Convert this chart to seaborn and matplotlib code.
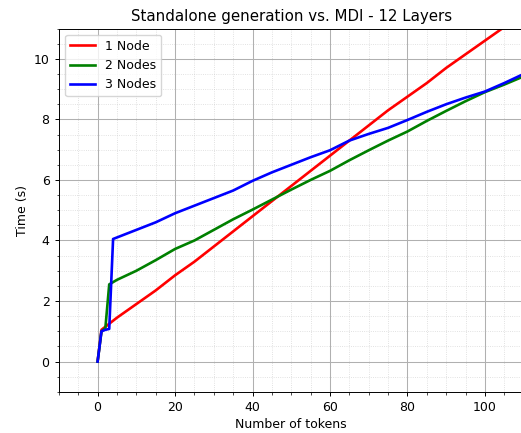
import matplotlib
matplotlib.use("Agg")
import matplotlib.pyplot as plt
from matplotlib.ticker import MultipleLocator
import seaborn as sns
import pandas as pd

tokens_1 = [0, 1, 5, 10, 15, 20, 25, 30, 35, 40, 45, 50, 55, 60, 65, 70, 75, 80, 85, 90, 95, 100, 105, 110]
time_1 = [0, 1.05, 1.45, 1.9, 2.35, 2.85, 3.3, 3.8, 4.3, 4.8, 5.3, 5.8, 6.3, 6.8, 7.3, 7.8, 8.3, 8.75, 9.2, 9.7, 10.15, 10.6, 11.05, 11.5]

tokens_2 = [0, 1, 2, 3, 5, 10, 15, 20, 25, 30, 35, 40, 45, 50, 55, 60, 65, 70, 75, 80, 85, 90, 95, 100, 105, 110]
time_2 = [0, 1.0, 1.1, 2.55, 2.7, 3.0, 3.35, 3.72, 4.0, 4.35, 4.7, 5.02, 5.35, 5.68, 6.0, 6.3, 6.65, 6.98, 7.3, 7.6, 7.95, 8.28, 8.6, 8.9, 9.15, 9.42]

tokens_3 = [0, 1, 2, 3, 4, 5, 10, 15, 20, 25, 30, 35, 40, 45, 50, 55, 60, 65, 70, 75, 80, 85, 90, 95, 100, 105, 110]
time_3 = [0, 1.0, 1.05, 1.08, 4.05, 4.1, 4.35, 4.6, 4.9, 5.15, 5.4, 5.65, 5.97, 6.25, 6.5, 6.75, 6.98, 7.3, 7.52, 7.72, 7.98, 8.25, 8.5, 8.72, 8.92, 9.2, 9.5]

labels = ["1 Node", "2 Nodes", "3 Nodes"]
colors = ["red", "green", "blue"]

frames = []
for lab, xs, ys in zip(labels, [tokens_1, tokens_2, tokens_3], [time_1, time_2, time_3]):
    frames.append(pd.DataFrame({"tokens": xs, "time": ys, "series": lab}))
df = pd.concat(frames, ignore_index=True)

fig = plt.figure(figsize=(5.21, 4.33), dpi=100)
ax = fig.add_axes([0.113, 0.095, 0.892, 0.839])

sns.lineplot(data=df, x="tokens", y="time", hue="series", hue_order=labels,
             palette=dict(zip(labels, colors)), linewidth=1.9, ax=ax, sort=False)

ax.set_xlim(-10, 110)
ax.set_ylim(-1, 11)
ax.xaxis.set_major_locator(MultipleLocator(20))
ax.xaxis.set_minor_locator(MultipleLocator(5))
ax.yaxis.set_major_locator(MultipleLocator(2))
ax.yaxis.set_minor_locator(MultipleLocator(0.5))
ax.tick_params(which="major", labelsize=9, length=3.2, width=0.7)
ax.tick_params(which="minor", length=1.8, width=0.5)
for sp in ax.spines.values():
    sp.set_linewidth(0.7)
ax.grid(which="major", color="#b0b0b0", linewidth=0.75)
ax.grid(which="minor", color="#c8c8c8", linestyle=":", linewidth=0.6, alpha=0.7)
ax.set_axisbelow(True)

ax.set_title("Standalone generation vs. MDI - 12 Layers", fontsize=10.8, pad=5.5)
ax.set_xlabel("Number of tokens", fontsize=9, labelpad=3)
ax.set_ylabel("Time (s)", fontsize=9, labelpad=3.5)
ax.legend(loc="upper left", fontsize=9, title=None)

fig.savefig("out.png", dpi=100)
